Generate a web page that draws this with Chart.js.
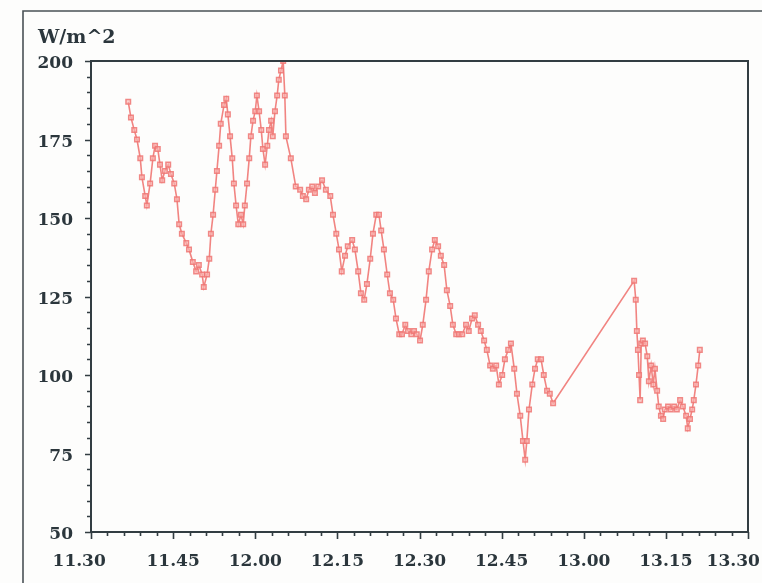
<!DOCTYPE html>
<html>
<head>
<meta charset="utf-8">
<script src="https://cdn.jsdelivr.net/npm/chart.js@4/dist/chart.umd.min.js"></script>
<style>
html,body{margin:0;padding:0;background:#fdfdfc;}
#wrap{width:762px;height:583px;position:relative;}
</style>
</head>
<body>
<div id="wrap"><canvas id="c" width="762" height="583"></canvas></div>
<script>
// minutes after 11:30
const timeMinutes = [6.8,7.3,7.9,8.4,9.0,9.3,9.9,10.2,10.8,11.3,11.7,12.2,12.6,13.0,13.5,14.1,14.6,15.2,15.7,16.1,16.6,17.4,17.9,18.6,19.2,19.7,20.3,20.6,21.2,21.6,21.9,22.3,22.7,23.0,23.4,23.7,24.3,24.7,25.0,25.4,25.8,26.1,26.5,26.9,27.4,27.8,28.1,28.5,28.9,29.2,29.6,30.0,30.3,30.7,31.1,31.4,31.8,32.2,32.5,32.9,33.2,33.6,34.0,34.3,34.7,35.1,35.4,35.6,36.5,37.4,38.2,38.7,39.3,39.8,40.4,40.9,41.5,42.2,42.9,43.7,44.2,44.8,45.3,45.8,46.4,46.9,47.7,48.2,48.8,49.3,49.9,50.4,51.0,51.5,52.1,52.6,53.0,53.5,54.1,54.6,55.2,55.7,56.3,56.8,57.4,57.9,58.5,59.0,59.5,60.1,60.6,61.2,61.7,62.3,62.8,63.4,63.9,64.5,65.0,65.6,66.1,66.7,67.2,67.8,68.5,69.0,69.6,70.1,70.7,71.2,71.8,72.3,72.9,73.4,74.0,74.5,75.1,75.6,76.2,76.7,77.3,77.8,78.4,78.9,79.3,79.6,80.0,80.6,81.1,81.6,82.2,82.7,83.3,83.8,84.4,99.2,99.5,99.7,99.9,100.1,100.3,100.5,100.8,101.2,101.6,101.9,102.3,102.7,103.0,103.4,103.7,104.1,104.5,104.8,105.4,105.9,106.5,107.0,107.6,108.1,108.7,109.0,109.4,109.8,110.1,110.5,110.9,111.2];
const irradiance = [187,182,178,175,169,163,157,154,161,169,173,172,167,162,165,167,164,161,156,148,145,142,140,136,133,135,132,128,132,137,145,151,159,165,173,180,186,188,183,176,169,161,154,148,151,148,154,161,169,176,181,184,189,184,178,172,167,173,178,181,176,184,189,194,197,200,189,176,169,160,159,157,156,159,160,158,160,162,159,157,151,145,140,133,138,141,143,140,133,126,124,129,137,145,151,151,146,140,132,126,124,118,113,113,116,114,113,114,113,111,116,124,133,140,143,141,138,135,127,122,116,113,113,113,116,114,118,119,116,114,111,108,103,102,103,97,100,105,108,110,102,94,87,79,73,79,89,97,102,105,105,100,95,94,91,130,124,114,108,100,92,110,111,110,106,98,103,97,102,95,90,87,86,89,90,89,90,89,92,90,87,83,86,89,92,97,103,108];
const xTickLabels = ['11.30','11.45','12.00','12.15','12.30','12.45','13.00','13.15','13.30'];
const yTickValues = [50,75,100,125,150,175,200];

const points = timeMinutes.map((t,i)=>({x:t,y:irradiance[i]}));
const axisColor = '#323d42';
const textColor = '#2b363c';
const fontFamily = '"DejaVu Serif", "Liberation Serif", serif';

const framePlugin = {
  id:'frame',
  beforeDraw(chart){
    const ctx = chart.ctx;
    ctx.save();
    ctx.fillStyle = '#fdfdfc';
    ctx.fillRect(0,0,chart.width,chart.height);
    ctx.strokeStyle = '#4a5256';
    ctx.lineWidth = 1.6;
    ctx.beginPath();
    ctx.moveTo(23, chart.height);
    ctx.lineTo(23, 11);
    ctx.lineTo(chart.width, 11);
    ctx.stroke();
    ctx.restore();
  },
  afterDraw(chart){
    const ctx = chart.ctx;
    const a = chart.chartArea;
    const xs = chart.scales.x, ys = chart.scales.y;
    ctx.save();
    ctx.strokeStyle = axisColor;
    ctx.lineWidth = 2;
    ctx.strokeRect(a.left, a.top, a.right - a.left, a.bottom - a.top);
    ctx.lineWidth = 1.6;
    ctx.beginPath();
    for (let v = ys.min; v <= ys.max; v += 5) {
      const y = Math.round(ys.getPixelForValue(v)) + 0.5;
      const len = (v % 25 === 0) ? 6 : 4;
      ctx.moveTo(a.left, y); ctx.lineTo(a.left - len, y);
    }
    for (let m = xs.min; m <= xs.max; m += 3) {
      const x = Math.round(xs.getPixelForValue(m)) + 0.5;
      const len = (m % 15 === 0) ? 7 : 4;
      ctx.moveTo(x, a.bottom); ctx.lineTo(x, a.bottom + len);
    }
    ctx.stroke();
    ctx.restore();
  }
};

new Chart(document.getElementById('c'), {
  type:'line',
  data:{
    datasets:[{
      data: points,
      borderColor:'rgba(240,125,122,0.95)',
      borderWidth:1.6,
      pointStyle:'rect',
      pointRadius:3.2,
      pointBorderWidth:1.5,
      pointBorderColor:'rgba(238,118,115,0.85)',
      pointBackgroundColor:'rgba(252,185,182,0.6)',
      tension:0,
      fill:false
    }]
  },
  options:{
    responsive:false,
    animation:false,
    events:[],
    layout:{padding:{left:38, top:0, right:14, bottom:0}},
    plugins:{
      legend:{display:false},
      tooltip:{enabled:false},
      title:{
        display:true,
        text:'W/m^2',
        align:'start',
        color:textColor,
        font:{family:fontFamily, size:19, weight:'bold'},
        padding:{top:26.6, bottom:11.6}
      }
    },
    scales:{
      x:{
        type:'linear',
        min:0, max:120,
        afterFit(s){ s.height = 51; s.paddingLeft = 0; s.paddingRight = 0; },
        grid:{display:true, drawOnChartArea:false, drawTicks:false, color:'rgba(0,0,0,0)'},
        border:{display:false},
        afterBuildTicks(s){ s.ticks = xTickLabels.map((_,i)=>({value:i*15})); },
        ticks:{
          padding:19,
          maxRotation:0,
          autoSkip:false,
          color:textColor,
          font:{family:fontFamily, size:17, weight:'bold'},
          callback:(v,i)=>{
            const t = xTickLabels[i];
            if (i === 0) return t + '\u00a0\u00a0\u00a0\u00a0';
            if (i === xTickLabels.length - 1) return t + '\u00a0\u00a0\u00a0\u00a0\u00a0';
            return t;
          }
        }
      },
      y:{
        min:50, max:200,
        afterFit(s){ s.width = 53; },
        grid:{display:true, drawOnChartArea:false, drawTicks:false, color:'rgba(0,0,0,0)'},
        border:{display:false},
        afterBuildTicks(s){ s.ticks = yTickValues.map(v=>({value:v})); },
        ticks:{
          padding:18,
          labelOffset:3,
          color:textColor,
          font:{family:fontFamily, size:17, weight:'bold'}
        }
      }
    }
  },
  plugins:[framePlugin]
});
</script>
</body>
</html>
